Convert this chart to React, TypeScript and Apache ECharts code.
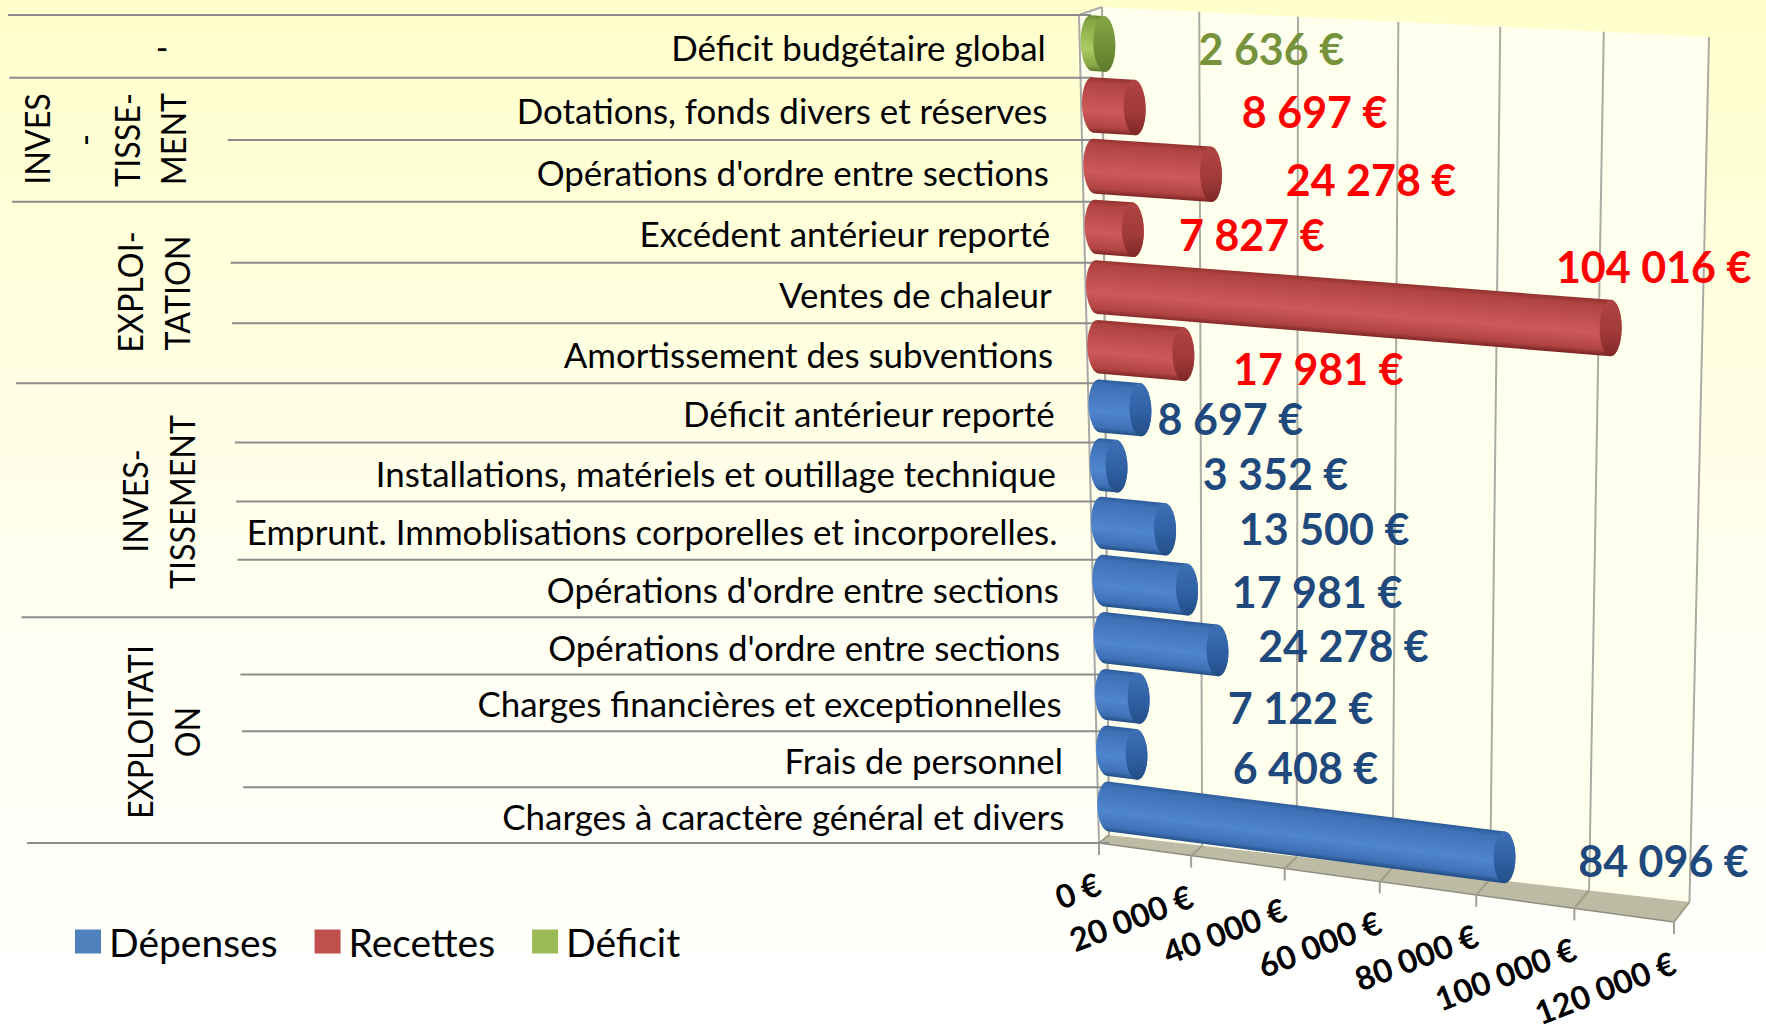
import React, { useEffect, useRef } from "react";
import * as echarts from "echarts";

const categories = [
  "Déficit budgétaire global",
  "Dotations, fonds divers et réserves",
  "Opérations d'ordre entre sections",
  "Excédent antérieur reporté",
  "Ventes de chaleur",
  "Amortissement des subventions",
  "Déficit antérieur reporté",
  "Installations, matériels et outillage technique",
  "Emprunt. Immoblisations corporelles et incorporelles.",
  "Opérations d'ordre entre sections",
  "Opérations d'ordre entre sections",
  "Charges financières et exceptionnelles",
  "Frais de personnel",
  "Charges à caractère général et divers",
];
const deficit = [2636, null, null, null, null, null, null, null, null, null, null, null, null, null];
const recettes = [null, 8697, 24278, 7827, 104016, 17981, null, null, null, null, null, null, null, null];
const depenses = [null, null, null, null, null, null, 8697, 3352, 13500, 17981, 24278, 7122, 6408, 84096];
const tickValues = [0, 20000, 40000, 60000, 80000, 100000, 120000];
const tickLabels = ["0 €", "20 000 €", "40 000 €", "60 000 €", "80 000 €", "100 000 €", "120 000 €"];
const groupBoundaries = [0, 1, 3, 6, 10, 14];
const MAX_VALUE = 120000;
const ROWS = 14;

// Layout only: data-label offsets from the tip of each bar
const labelDx = [167, 180, 160, 119, 43, 135, 90, 159, 159, 130, 126, 162, 169, 159];
const labelDy = [9, 8, 9, 9, -58, 18, 13, 11, 3, 6, -1, 13, 17, 7];

const FONT = "Lato, Carlito, sans-serif";
const GRID = { left: 100, top: 10, width: 1000, height: 1000 };

type P = [number, number];
function homography(q: P[]) {
  const [[x0, y0], [x1, y1], [x2, y2], [x3, y3]] = q;
  const dx1 = x1 - x2, dx2 = x3 - x2, sx = x0 - x1 + x2 - x3;
  const dy1 = y1 - y2, dy2 = y3 - y2, sy = y0 - y1 + y2 - y3;
  const den = dx1 * dy2 - dx2 * dy1;
  const g = (sx * dy2 - dx2 * sy) / den;
  const h = (dx1 * sy - sx * dy1) / den;
  const a = x1 - x0 + g * x1, b = x3 - x0 + h * x3;
  const d = y1 - y0 + g * y1, e = y3 - y0 + h * y3;
  return (p: number[]): P => {
    const u = (p[0] - GRID.left) / GRID.width;
    const v = (p[1] - GRID.top) / GRID.height;
    const w = g * u + h * v + 1;
    return [(a * u + b * v + x0) / w, (d * u + e * v + y0) / w];
  };
}
// corners: value 0 / top, value max / top, value max / bottom, value 0 / bottom
const backPlane = homography([[1102, 7], [1709, 37], [1689.5, 902], [1109, 835]]);
const frontPlane = homography([[1079, 15], [1694, 57], [1674, 922], [1099, 843]]);
const barPlane = homography([[1091, 14], [1700, 47], [1682, 911], [1109, 836]]);

const line = (a: P, b: P, stroke: string, lineWidth = 2) => ({
  type: "line",
  shape: { x1: a[0], y1: a[1], x2: b[0], y2: b[1] },
  style: { stroke, lineWidth },
  silent: true,
});
const poly = (points: P[], fill: any) => ({ type: "polygon", shape: { points }, style: { fill }, silent: true });

function wallRender(_: any, api: any) {
  const tl = api.coord([0, 0]), tr = api.coord([MAX_VALUE, 0]);
  const br = api.coord([MAX_VALUE, ROWS]), bl = api.coord([0, ROWS]);
  return {
    type: "group",
    children: [
      poly([backPlane(tl), backPlane(tr), backPlane(br), backPlane(bl)], "#FFFFEE"),
      poly([frontPlane(tl), backPlane(tl), backPlane(bl), frontPlane(bl)], "#FFFFEE"),
      poly([frontPlane(bl), frontPlane(br), backPlane(br), backPlane(bl)], "#BDBBA4"),
      line(frontPlane(tl), frontPlane(bl), "#A8A8A8"),
      line(frontPlane(tl), backPlane(tl), "#A8A8A8"),
      line(backPlane(tl), backPlane(bl), "#C8C8BC"),
      line(frontPlane(bl), frontPlane(br), "#8E8E80", 1.5),
    ],
  };
}

function tickRender(_: any, api: any) {
  const i = api.value(1);
  const v = api.value(0);
  const top = api.coord([v, 0]);
  const bot = api.coord([v, ROWS]);
  const fb = frontPlane(bot);
  const bb = backPlane(bot);
  return {
    type: "group",
    children: [
      line(backPlane(top), bb, "#ABABA3"),
      line(bb, fb, "#9F9D86"),
      line(fb, [fb[0], fb[1] + 12], "#A0A096"),
      {
        type: "text",
        x: fb[0],
        y: fb[1] + 39,
        rotation: (21 * Math.PI) / 180,
        silent: true,
        style: {
          text: tickLabels[i],
          fill: "#000000",
          fontFamily: FONT,
          fontWeight: "bold",
          fontSize: 32.5,
          align: "right",
          verticalAlign: "middle",
        },
      },
    ],
  };
}

function separatorRender(_: any, api: any) {
  const t = api.value(0);
  const c = api.coord([0, t]);
  const y = frontPlane(c)[1];
  const x1 = barPlane(c)[0];
  const isGroup = groupBoundaries.includes(t);
  const x0 = (isGroup ? 8 : 225) + t * (isGroup ? 1.36 : 1.4);
  return line([x0, y], [x1, y], "#8C8C8C");
}

function categoryRender(_: any, api: any) {
  const i = api.value(0);
  const p = frontPlane(api.coord([0, i + 0.5]));
  return {
    type: "text",
    x: p[0] - 34,
    y: p[1] + 1,
    silent: true,
    style: {
      text: categories[i],
      fill: "#000000",
      fontFamily: FONT,
      fontSize: 34.9,
      align: "right",
      verticalAlign: "middle",
    },
  };
}

const DIAMETER = 0.9;
const CENTER = 0.47;
function barRender(colors: { edge: string; edge2: string; mid: string; cap: string; capLight: string; label: string }) {
  return (_: any, api: any) => {
    const v = api.value(0);
    const i = api.value(1);
    const tc = i + CENTER;
    const A0 = barPlane(api.coord([0, tc - DIAMETER / 2]));
    const A1 = barPlane(api.coord([v, tc - DIAMETER / 2]));
    const B1 = barPlane(api.coord([v, tc + DIAMETER / 2]));
    const B0 = barPlane(api.coord([0, tc + DIAMETER / 2]));
    const C0: P = [(A0[0] + B0[0]) / 2, (A0[1] + B0[1]) / 2];
    const C1: P = [(A1[0] + B1[0]) / 2, (A1[1] + B1[1]) / 2];
    const CAP = 11;
    const arc = (c: P, a: P, side: number, from: number, to: number) => {
      const out: P[] = [];
      const n = 28;
      for (let k = 0; k <= n; k++) {
        const th = from + ((to - from) * k) / n;
        const co = Math.cos(th), si = Math.sin(th);
        out.push([c[0] + (a[0] - c[0]) * co + side * CAP * si, c[1] + (a[1] - c[1]) * co + side * CAP * si * 0.05]);
      }
      return out;
    };
    const body: P[] = [...arc(C1, A1, 1, 0, Math.PI), ...arc(C0, A0, -1, Math.PI, 0)];
    const cap: P[] = arc(C1, A1, 1, 0, Math.PI * 2);
    // Gradient runs across the cylinder, perpendicular to its tilted axis
    const len = Math.hypot(C1[0] - C0[0], C1[1] - C0[1]) || 1;
    const nx = -(C1[1] - C0[1]) / len, ny = (C1[0] - C0[0]) / len;
    const S: P = [(A0[0] + A1[0]) / 2, (A0[1] + A1[1]) / 2];
    const E: P = [(B0[0] + B1[0]) / 2, (B0[1] + B1[1]) / 2];
    const depth = (E[0] - S[0]) * nx + (E[1] - S[1]) * ny;
    const fillBody = {
      type: "linear",
      global: true,
      x: S[0],
      y: S[1],
      x2: S[0] + nx * depth,
      y2: S[1] + ny * depth,
      colorStops: [
        { offset: 0, color: colors.edge },
        { offset: 0.1, color: colors.cap },
        { offset: 0.6, color: colors.mid },
        { offset: 0.9, color: colors.cap },
        { offset: 1, color: colors.edge2 },
      ],
    };
    const capFill = {
      type: "linear",
      global: true,
      x: A1[0],
      y: A1[1],
      x2: B1[0],
      y2: B1[1],
      colorStops: [
        { offset: 0, color: colors.cap },
        { offset: 0.6, color: colors.capLight },
        { offset: 1, color: colors.edge2 },
      ],
    };
    return {
      type: "group",
      children: [
        poly(body, fillBody),
        poly(cap, capFill),
        {
          type: "text",
          x: C1[0] + labelDx[i],
          y: C1[1] + labelDy[i] - 4,
          silent: true,
          style: {
            text: String(v).replace(/\B(?=(\d{3})+$)/g, " ") + " €",
            fill: colors.label,
            fontFamily: FONT,
            fontWeight: "bold",
            fontSize: 43,
            align: "center",
            verticalAlign: "middle",
          },
        },
      ],
    };
  };
}

const toPoints = (values: (number | null)[]) =>
  values.map((v, i) => (v === null ? null : [v, i])).filter(Boolean) as number[][];

const RED = { edge: "#94322F", edge2: "#7E2725", mid: "#CF595A", cap: "#B04442", capLight: "#A03A39", label: "#FF0000" };
const BLUE = { edge: "#2D5C9A", edge2: "#234E86", mid: "#4F85CF", cap: "#3E70B6", capLight: "#2E5FA3", label: "#1F497D" };
const GREEN = { edge: "#6A8A33", edge2: "#5D7B2C", mid: "#A9CB62", cap: "#86A544", capLight: "#6E8E36", label: "#76923C" };

function buildOption() {
  const structural = (data: any, renderItem: any, encode: any) => ({
    type: "custom",
    data,
    renderItem,
    encode,
    silent: true,
    clip: false,
  });
  const barSeries = (name: string, values: (number | null)[], c: any, color: string) => ({
    type: "custom",
    name,
    data: toPoints(values),
    renderItem: barRender(c),
    encode: { x: 0, y: 1 },
    itemStyle: { color },
    silent: true,
    clip: false,
  });
  const vText = (text: string, x: number, y: number) => ({
    type: "text",
    x,
    y,
    rotation: Math.PI / 2,
    silent: true,
    scaleX: 0.95,
    style: {
      text,
      fill: "#000000",
      fontFamily: FONT,
      fontSize: 34,
      align: "center",
      verticalAlign: "middle",
    },
  });
  return {
    animation: false,
    backgroundColor: {
      type: "linear",
      x: 0,
      y: 0,
      x2: 0,
      y2: 1,
      colorStops: [
        { offset: 0, color: "#FFFFCC" },
        { offset: 0.6, color: "#FFFFF2" },
        { offset: 1, color: "#FFFFFF" },
      ],
    },
    grid: { ...GRID, containLabel: false },
    xAxis: { type: "value", min: 0, max: MAX_VALUE, show: false },
    yAxis: { type: "value", min: 0, max: ROWS, inverse: true, show: false },
    legend: {
      left: 70,
      top: 917,
      itemWidth: 26,
      itemHeight: 24,
      itemGap: 37,
      icon: "rect",
      selectedMode: false,
      data: ["Dépenses", "Recettes", "Déficit"],
      textStyle: { fontFamily: FONT, fontSize: 39, color: "#000000", padding: [0, 0, 0, 3] },
    },
    series: [
      structural([[0]], wallRender, { x: 0 }),
      structural(tickValues.map((v, i) => [v, i]), tickRender, { x: 0 }),
      structural(Array.from({ length: ROWS + 1 }, (_, i) => [i]), separatorRender, { y: 0 }),
      structural(categories.map((_, i) => [i]), categoryRender, { y: 0 }),
      barSeries("Dépenses", depenses, BLUE, "#4F81BD"),
      barSeries("Recettes", recettes, RED, "#C0504D"),
      barSeries("Déficit", deficit, GREEN, "#9BBB59"),
    ],
    graphic: {
      elements: [
        {
          type: "text",
          x: 162,
          y: 46,
          silent: true,
          style: { text: "-", fill: "#000", fontFamily: FONT, fontSize: 34, align: "center", verticalAlign: "middle" },
        },
        vText("INVES", 37, 139),
        vText("-", 84, 140),
        vText("TISSE-", 127, 140),
        vText("MENT", 173, 139),
        vText("EXPLOI-", 130, 292),
        vText("TATION", 177, 293),
        vText("INVES-", 135, 501),
        vText("TISSEMENT", 182, 502),
        vText("EXPLOITATI", 140, 732),
        vText("ON", 187, 732),
      ],
    },
  };
}

export default function App() {
  const ref = useRef<HTMLDivElement>(null);
  useEffect(() => {
    const chart = echarts.init(ref.current as HTMLDivElement, undefined, { renderer: "svg" });
    chart.setOption(buildOption() as any);
    return () => chart.dispose();
  }, []);
  return <div ref={ref} style={{ position: "fixed", left: 0, top: 0, width: 1766, height: 1026 }} />;
}
